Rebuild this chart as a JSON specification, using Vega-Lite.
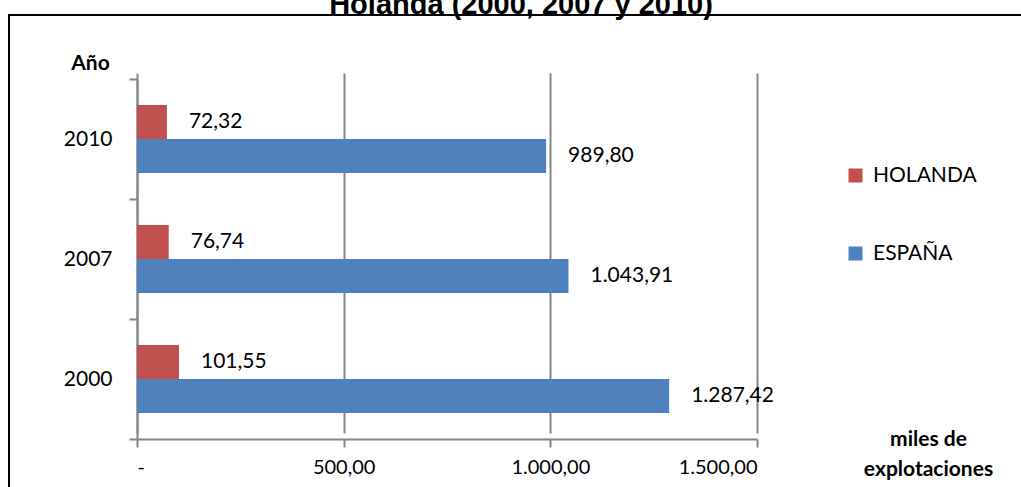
{
  "$schema": "https://vega.github.io/schema/vega-lite/v6.json",
  "width": 1030,
  "height": 482,
  "autosize": {"type": "none"},
  "padding": {"left": 9, "top": 15, "right": 0, "bottom": 0},
  "background": "white",
  "title": {
    "text": "Holanda (2000, 2007 y 2010)",
    "font": "Liberation Sans",
    "fontSize": 29,
    "fontWeight": "bold",
    "color": "black",
    "anchor": "middle",
    "baseline": "alphabetic",
    "offset": 3,
    "dx": -3,
    "dy": 42
  },
  "data": {
    "values": [
      {"anio": "2010", "pais": "HOLANDA", "valor": 72.32},
      {"anio": "2010", "pais": "ESPAÑA", "valor": 989.80},
      {"anio": "2007", "pais": "HOLANDA", "valor": 76.74},
      {"anio": "2007", "pais": "ESPAÑA", "valor": 1043.91},
      {"anio": "2000", "pais": "HOLANDA", "valor": 101.55},
      {"anio": "2000", "pais": "ESPAÑA", "valor": 1287.42}
    ]
  },
  "encoding": {
    "y": {
      "field": "anio",
      "type": "nominal",
      "sort": ["2010", "2007", "2000"],
      "scale": {"range": [64, 424], "paddingInner": 0, "paddingOuter": 0},
      "axis": {
        "title": "Año",
        "titleAngle": 0,
        "titleX": -47,
        "titleY": 48,
        "titleAlign": "center",
        "titleBaseline": "middle",
        "titleFont": "Lato",
        "titleFontSize": 21,
        "titleFontWeight": "bold",
        "titleColor": "black",
        "offset": -128,
        "tickBand": "extent",
        "grid": false,
        "labelFont": "Lato",
        "labelFontSize": 21,
        "labelColor": "black",
        "labelPadding": 17,
        "tickSize": 8,
        "tickColor": "#868686",
        "tickWidth": 2,
        "domainColor": "#868686",
        "domainWidth": 2
      }
    },
    "yOffset": {
      "field": "pais",
      "sort": ["HOLANDA", "ESPAÑA"],
      "scale": {"paddingInner": 0, "paddingOuter": 0.7647}
    },
    "x": {
      "field": "valor",
      "type": "quantitative",
      "scale": {"domain": [0, 1500], "range": [128, 748], "nice": false},
      "axis": {
        "title": ["miles de", "explotaciones"],
        "titleX": 919,
        "titleY": -11,
        "titleAlign": "center",
        "titleBaseline": "top",
        "titleLineHeight": 30,
        "titleFont": "Lato",
        "titleFontSize": 21,
        "titleFontWeight": "bold",
        "titleColor": "black",
        "offset": -58,
        "values": [0, 500, 1000, 1500],
        "format": ",.2f",
        "labelExpr": "datum.value == 0 ? '-' : datum.label",
        "labelFont": "Lato",
        "labelFontSize": 20,
        "labelColor": "black",
        "labelPadding": 10,
        "tickSize": 8,
        "tickColor": "#868686",
        "tickWidth": 2,
        "domainColor": "#868686",
        "domainWidth": 2,
        "grid": true,
        "gridColor": "#868686",
        "gridWidth": 2
      }
    }
  },
  "layer": [
    {
      "mark": {"type": "bar"},
      "encoding": {
        "color": {
          "field": "pais",
          "type": "nominal",
          "scale": {"domain": ["HOLANDA", "ESPAÑA"], "range": ["#C0504D", "#4F81BD"]},
          "legend": {
            "orient": "none",
            "legendX": 836,
            "legendY": 150,
            "direction": "vertical",
            "title": null,
            "symbolType": "square",
            "symbolSize": 196,
            "symbolStrokeWidth": 0,
            "labelFont": "Lato",
            "labelFontSize": 21,
            "labelColor": "black",
            "labelOffset": 7,
            "rowPadding": 56
          }
        }
      }
    },
    {
      "mark": {"type": "text", "align": "left", "baseline": "middle", "dx": 22, "font": "Lato", "fontSize": 21, "color": "black"},
      "encoding": {
        "text": {"field": "valor", "type": "quantitative", "format": ",.2f"}
      }
    }
  ],
  "config": {
    "locale": {"number": {"decimal": ",", "thousands": ".", "grouping": [3], "currency": ["", " €"]}},
    "view": {"stroke": "black", "strokeWidth": 2}
  }
}
